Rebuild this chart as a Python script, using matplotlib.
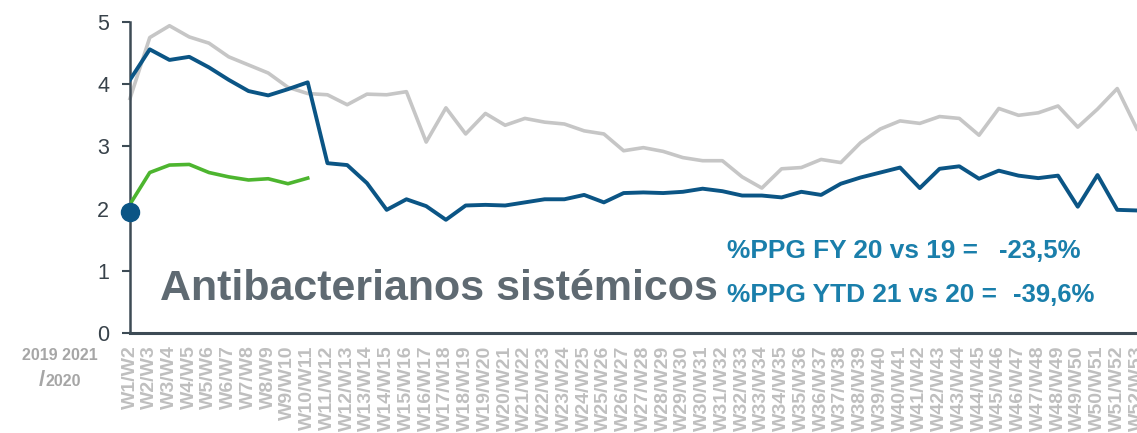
import numpy as np
import matplotlib.pyplot as plt

plt.rcParams['font.family'] = ['Liberation Sans', 'DejaVu Sans']

# etiquetas de semanas
semanas = [f'W{i}/W{i + 1}' for i in range(1, 53)]

# serie gris (2019)
gris = [3.77, 4.75, 4.94, 4.76, 4.66, 4.44, 4.31, 4.18, 3.95, 3.85,
        3.83, 3.67, 3.84, 3.83, 3.88, 3.07, 3.62, 3.20, 3.53, 3.34,
        3.45, 3.39, 3.36, 3.25, 3.20, 2.93, 2.98, 2.92, 2.82, 2.77,
        2.77, 2.51, 2.33, 2.64, 2.66, 2.79, 2.74, 3.06, 3.28, 3.41,
        3.37, 3.48, 3.45, 3.18, 3.61, 3.50, 3.54, 3.65, 3.31, 3.60,
        3.93, 3.28]

# serie azul (2020)
azul = [4.07, 4.56, 4.39, 4.44, 4.27, 4.07, 3.89, 3.82, 3.92, 4.03,
        2.73, 2.70, 2.41, 1.98, 2.15, 2.04, 1.82, 2.05, 2.06, 2.05,
        2.10, 2.15, 2.15, 2.22, 2.10, 2.25, 2.26, 2.25, 2.27, 2.32,
        2.28, 2.21, 2.21, 2.18, 2.27, 2.22, 2.40, 2.50, 2.58, 2.66,
        2.33, 2.64, 2.68, 2.48, 2.61, 2.53, 2.49, 2.53, 2.03, 2.54,
        1.98, 1.97]

# serie verde (2021)
verde = [2.07, 2.58, 2.70, 2.71, 2.58, 2.51, 2.46, 2.48, 2.40, 2.49]

# punto inicial
punto_x = [0]
punto_y = [1.95]

W, H = 1137, 433
fig = plt.figure(figsize=(W / 100, H / 100), dpi=100)
ax = fig.add_axes([130 / W, 100 / H, 1007 / W, 311 / H])

x = np.arange(len(semanas))
ax.plot(x, gris, color='#c6c6c6', lw=2.6, clip_on=False, zorder=2)
ax.plot(x, azul, color='#0b5585', lw=2.8, zorder=3)
ax.plot(x[:len(verde)], verde, color='#4db52f', lw=2.6, zorder=3)
ax.plot(punto_x, punto_y, 'o', color='#0b5585', ms=13, clip_on=False, zorder=4)

ax.set_xlim(0, 50.83)
ax.set_ylim(0, 5)
ax.set_yticks([0, 1, 2, 3, 4, 5])
ax.tick_params(axis='y', direction='out', length=6, width=1.5, color='#3d4b55',
               labelsize=15.5, labelcolor='#38424a', pad=9)
ax.set_xticks(x)
ax.set_xticklabels(semanas, rotation=90, fontsize=14, fontweight='bold', color='#bfbfbf')
ax.tick_params(axis='x', length=0, pad=9)

for s in ['top', 'right']:
    ax.spines[s].set_visible(False)
ax.spines['left'].set_color('#3d4b55')
ax.spines['left'].set_linewidth(1.8)
ax.spines['bottom'].set_color('#3d4b55')
ax.spines['bottom'].set_linewidth(2.2)


def px(xp, yp):
    return xp / W, 1 - yp / H


fig.text(*px(160, 289), 'Antibacterianos sistémicos', fontsize=31, fontweight='bold',
         color='#5f6a72', va='center', ha='left')

azul_txt = '#1a7fab'
fig.text(*px(727, 251), '%PPG FY 20 vs 19 =', fontsize=18.9, fontweight='bold',
         color=azul_txt, va='center', ha='left')
fig.text(*px(999, 251), '-23,5%', fontsize=18.5, fontweight='bold',
         color=azul_txt, va='center', ha='left')
fig.text(*px(727, 295), '%PPG YTD 21 vs 20 =', fontsize=18.9, fontweight='bold',
         color=azul_txt, va='center', ha='left')
fig.text(*px(1013, 295), '-39,6%', fontsize=18.5, fontweight='bold',
         color=azul_txt, va='center', ha='left')

fig.text(*px(60, 356), '2019 2021', fontsize=11.5, fontweight='bold',
         color='#a6a6a6', va='center', ha='center')
fig.text(*px(42, 380), '/', fontsize=16, fontweight='bold',
         color='#a6a6a6', va='center', ha='center')
fig.text(*px(46, 382), '2020', fontsize=11.5, fontweight='bold',
         color='#a6a6a6', va='center', ha='left')

fig.savefig('out.png', dpi=100)
